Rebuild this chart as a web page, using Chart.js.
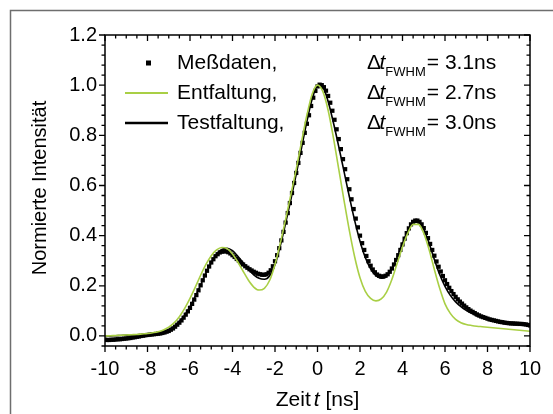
<!DOCTYPE html>
<html>
<head>
<meta charset="utf-8">
<script src="https://cdn.jsdelivr.net/npm/chart.js@4.4.1/dist/chart.umd.min.js"></script>
<style>
  html, body { margin: 0; padding: 0; background: #fff; }
  #wrap { width: 553px; height: 414px; }
</style>
</head>
<body>
<div id="wrap"><canvas id="chart"></canvas></div>
<script>
// Messdaten: every 0.1 ns from -10 to 10
const messdaten = [
    -0.015, -0.016, -0.016, -0.015, -0.015, -0.014, -0.013, -0.013, -0.012, -0.011,
    -0.010, -0.009, -0.008, -0.006, -0.005, -0.003, -0.002, 0.000, 0.001, 0.003,
    0.004, 0.005, 0.006, 0.007, 0.008, 0.009, 0.010, 0.012, 0.014, 0.017,
    0.020, 0.025, 0.030, 0.037, 0.045, 0.053, 0.062, 0.073, 0.085, 0.098,
    0.112, 0.128, 0.145, 0.163, 0.182, 0.202, 0.222, 0.241, 0.260, 0.277,
    0.293, 0.306, 0.318, 0.326, 0.333, 0.336, 0.338, 0.337, 0.334, 0.329,
    0.322, 0.315, 0.307, 0.300, 0.292, 0.285, 0.278, 0.272, 0.266, 0.261,
    0.256, 0.252, 0.248, 0.246, 0.244, 0.244, 0.246, 0.252, 0.262, 0.278,
    0.298, 0.322, 0.350, 0.381, 0.415, 0.452, 0.490, 0.530, 0.570, 0.610,
    0.650, 0.690, 0.730, 0.770, 0.810, 0.846, 0.880, 0.917, 0.950, 0.977,
    0.995, 1.002, 1.000, 0.992, 0.978, 0.957, 0.930, 0.898, 0.862, 0.824,
    0.785, 0.745, 0.705, 0.665, 0.625, 0.585, 0.545, 0.506, 0.468, 0.433,
    0.400, 0.370, 0.343, 0.319, 0.298, 0.280, 0.265, 0.254, 0.245, 0.240,
    0.237, 0.237, 0.240, 0.246, 0.256, 0.269, 0.285, 0.303, 0.322, 0.343,
    0.365, 0.388, 0.410, 0.429, 0.445, 0.455, 0.460, 0.460, 0.455, 0.445,
    0.430, 0.411, 0.390, 0.367, 0.343, 0.320, 0.297, 0.276, 0.257, 0.239,
    0.222, 0.207, 0.192, 0.179, 0.167, 0.156, 0.146, 0.137, 0.129, 0.121,
    0.114, 0.107, 0.101, 0.096, 0.091, 0.086, 0.082, 0.078, 0.075, 0.072,
    0.069, 0.066, 0.064, 0.062, 0.060, 0.058, 0.056, 0.055, 0.053, 0.052,
    0.051, 0.050, 0.050, 0.049, 0.049, 0.048, 0.048, 0.047, 0.046, 0.044,
    0.042
];
// Entfaltung + Testfaltung: every 0.25 ns from -10 to 10
const entfaltung = [
    0.000, 0.001, 0.002, 0.003, 0.004, 0.005, 0.006, 0.008,
    0.010, 0.013, 0.017, 0.024, 0.035, 0.052, 0.077, 0.110,
    0.150, 0.195, 0.242, 0.285, 0.320, 0.343, 0.353, 0.348,
    0.327, 0.295, 0.258, 0.222, 0.195, 0.183, 0.190, 0.222,
    0.285, 0.370, 0.465, 0.565, 0.665, 0.775, 0.880, 0.965,
    1.000, 0.975, 0.900, 0.790, 0.665, 0.540, 0.420, 0.315,
    0.232, 0.178, 0.150, 0.140, 0.148, 0.175, 0.225, 0.290,
    0.355, 0.410, 0.445, 0.445, 0.410, 0.345, 0.265, 0.190,
    0.128, 0.090, 0.066, 0.053, 0.046, 0.042, 0.039, 0.037,
    0.035, 0.033, 0.031, 0.029, 0.027, 0.025, 0.023, 0.021,
    0.019
];
const testfaltung = [
    0.000, 0.000, 0.001, 0.002, 0.003, 0.004, 0.005, 0.006,
    0.008, 0.010, 0.013, 0.018, 0.026, 0.038, 0.057, 0.083,
    0.117, 0.158, 0.203, 0.250, 0.292, 0.325, 0.345, 0.350,
    0.340, 0.318, 0.292, 0.266, 0.244, 0.230, 0.226, 0.240,
    0.285, 0.360, 0.450, 0.545, 0.645, 0.750, 0.855, 0.945,
    0.995, 0.990, 0.935, 0.850, 0.755, 0.655, 0.555, 0.460,
    0.378, 0.313, 0.268, 0.240, 0.230, 0.238, 0.268, 0.315,
    0.370, 0.420, 0.452, 0.455, 0.425, 0.370, 0.305, 0.245,
    0.198, 0.162, 0.136, 0.117, 0.102, 0.090, 0.080, 0.072,
    0.066, 0.061, 0.057, 0.053, 0.050, 0.048, 0.046, 0.044,
    0.042
];
const xTicks = [-10, -8, -6, -4, -2, 0, 2, 4, 6, 8, 10];
const yTicks = [0, 0.2, 0.4, 0.6, 0.8, 1.0, 1.2];
const fwhmLabels = ['3.1ns', '2.7ns', '3.0ns'];
const seriesNames = ['Meßdaten,', 'Entfaltung,', 'Testfaltung,'];

const tMess = messdaten.map((_, i) => +(-10 + i * 0.1).toFixed(2));
const tFit = entfaltung.map((_, i) => -10 + i * 0.25);
const toPoints = (ts, vs) => vs.map((v, i) => ({ x: ts[i], y: v }));

const FONT = '"Liberation Sans", Arial, sans-serif';
const GREEN = '#a9cf45';

// frame, tick marks, axis titles and legend
const decorations = {
    id: 'decorations',
    beforeDraw(chart) {
        const ctx = chart.ctx;
        ctx.save();
        ctx.strokeStyle = '#6e6e6e';
        ctx.lineWidth = 1.5;
        ctx.beginPath();
        ctx.moveTo(10.5, 414);
        ctx.lineTo(10.5, 10.5);
        ctx.lineTo(553, 10.5);
        ctx.stroke();
        ctx.restore();
    },
    afterDraw(chart) {
        const { ctx, chartArea: a, scales: { x, y } } = chart;
        ctx.save();
        ctx.strokeStyle = '#000';
        ctx.lineWidth = 1.5;
        ctx.strokeRect(a.left, a.top, a.right - a.left, a.bottom - a.top);

        ctx.lineWidth = 1.3;
        ctx.beginPath();
        // x ticks: majors from xTicks, 3 minors in between
        for (let i = 0; i < xTicks.length; i++) {
            const step = i < xTicks.length - 1 ? (xTicks[i + 1] - xTicks[i]) / 4 : 0;
            for (let k = 0; k < (step ? 4 : 1); k++) {
                const px = x.getPixelForValue(xTicks[i] + k * step);
                const len = k === 0 ? 6 : 3.5;
                ctx.moveTo(px, a.bottom); ctx.lineTo(px, a.bottom + len);
                ctx.moveTo(px, a.top); ctx.lineTo(px, a.top + len);
            }
        }
        // y ticks: majors from yTicks, 4 minors in between, one below zero
        const ySteps = [];
        for (let i = 0; i < yTicks.length; i++) {
            ySteps.push([yTicks[i], true]);
            if (i < yTicks.length - 1) {
                const s = (yTicks[i + 1] - yTicks[i]) / 5;
                for (let k = 1; k < 5; k++) ySteps.push([yTicks[i] + k * s, false]);
            }
        }
        ySteps.push([-0.04, false]);
        ySteps.forEach(([v, major]) => {
            const py = y.getPixelForValue(v);
            const len = major ? 6 : 3.5;
            ctx.moveTo(a.left, py); ctx.lineTo(a.left - len, py);
            ctx.moveTo(a.right, py); ctx.lineTo(a.right - len, py);
        });
        ctx.stroke();

        // axis titles
        ctx.fillStyle = '#000';
        ctx.textBaseline = 'alphabetic';
        const cx = (a.left + a.right) / 2;
        ctx.font = '21px ' + FONT;
        const wA = ctx.measureText('Zeit').width + 3;
        const wB = ctx.measureText(' [ns]').width;
        ctx.font = 'italic 21px ' + FONT;
        const wT = ctx.measureText('t').width;
        const sx = cx - (wA + wT + wB) / 2;
        ctx.font = '21px ' + FONT;
        ctx.fillText('Zeit', sx, 406);
        ctx.font = 'italic 21px ' + FONT;
        ctx.fillText('t', sx + wA, 406);
        ctx.font = '21px ' + FONT;
        ctx.fillText(' [ns]', sx + wA + wT, 406);

        ctx.save();
        ctx.translate(46, 188);
        ctx.rotate(-Math.PI / 2);
        ctx.textAlign = 'center';
        ctx.font = '20px ' + FONT;
        ctx.fillText('Normierte Intensität', 0, 0);
        ctx.restore();

        // legend
        const rows = [63, 93, 123];
        ctx.textBaseline = 'middle';
        ctx.fillStyle = '#000';
        ctx.fillRect(146, rows[0] - 2.5, 5, 5);
        ctx.lineWidth = 2;
        ctx.strokeStyle = GREEN;
        ctx.beginPath(); ctx.moveTo(125, rows[1]); ctx.lineTo(168, rows[1]); ctx.stroke();
        ctx.lineWidth = 2.5;
        ctx.strokeStyle = '#000';
        ctx.beginPath(); ctx.moveTo(125, rows[2]); ctx.lineTo(168, rows[2]); ctx.stroke();
        ctx.font = '21px ' + FONT;
        seriesNames.forEach((s, i) => ctx.fillText(s, 177, rows[i]));

        fwhmLabels.forEach((lab, i) => {
            let px = 367;
            const py = rows[i];
            ctx.font = '21px ' + FONT;
            ctx.fillText('Δ', px, py);
            px += ctx.measureText('Δ').width - 1.5;
            ctx.font = 'italic 21px ' + FONT;
            ctx.fillText('t', px, py);
            px += ctx.measureText('t').width;
            ctx.font = '13px ' + FONT;
            ctx.fillText('FWHM', px, py + 9);
            px += ctx.measureText('FWHM').width + 1;
            ctx.font = '21px ' + FONT;
            ctx.fillText('= ' + lab, px, py);
        });
        ctx.restore();
    }
};

new Chart(document.getElementById('chart'), {
    type: 'scatter',
    data: {
        datasets: [
            {
                label: 'Entfaltung',
                data: toPoints(tFit, entfaltung),
                showLine: true,
                borderColor: GREEN,
                borderWidth: 1.6,
                pointRadius: 0,
                cubicInterpolationMode: 'monotone',
                order: 0
            },
            {
                label: 'Testfaltung',
                data: toPoints(tFit, testfaltung),
                showLine: true,
                borderColor: '#000',
                borderWidth: 1.6,
                pointRadius: 0,
                cubicInterpolationMode: 'monotone',
                order: 1
            },
            {
                label: 'Meßdaten',
                data: toPoints(tMess, messdaten),
                showLine: false,
                pointStyle: 'rect',
                pointRadius: 3,
                backgroundColor: '#000',
                borderWidth: 0,
                order: 2
            }
        ]
    },
    options: {
        responsive: true,
        maintainAspectRatio: false,
        animation: false,
        events: [],
        layout: { padding: { left: 0, right: 23, top: 35, bottom: 0 } },
        plugins: { legend: { display: false }, tooltip: { enabled: false } },
        scales: {
            x: {
                type: 'linear',
                min: -10,
                max: 10,
                grid: { display: false, drawTicks: false },
                border: { display: false },
                afterBuildTicks: s => { s.ticks = xTicks.map(v => ({ value: v })); },
                afterFit: s => { s.height = 68; },
                ticks: {
                    color: '#000',
                    padding: 11,
                    maxRotation: 0,
                    font: { family: FONT, size: 20 },
                    callback: v => String(v)
                }
            },
            y: {
                min: -0.04,
                max: 1.2,
                grid: { display: false, drawTicks: false },
                border: { display: false },
                afterBuildTicks: s => { s.ticks = yTicks.map(v => ({ value: v })); },
                afterFit: s => { s.width = 105; },
                ticks: {
                    color: '#000',
                    padding: 8,
                    font: { family: FONT, size: 20 },
                    callback: v => v.toFixed(1)
                }
            }
        }
    },
    plugins: [decorations]
});
</script>
</body>
</html>
